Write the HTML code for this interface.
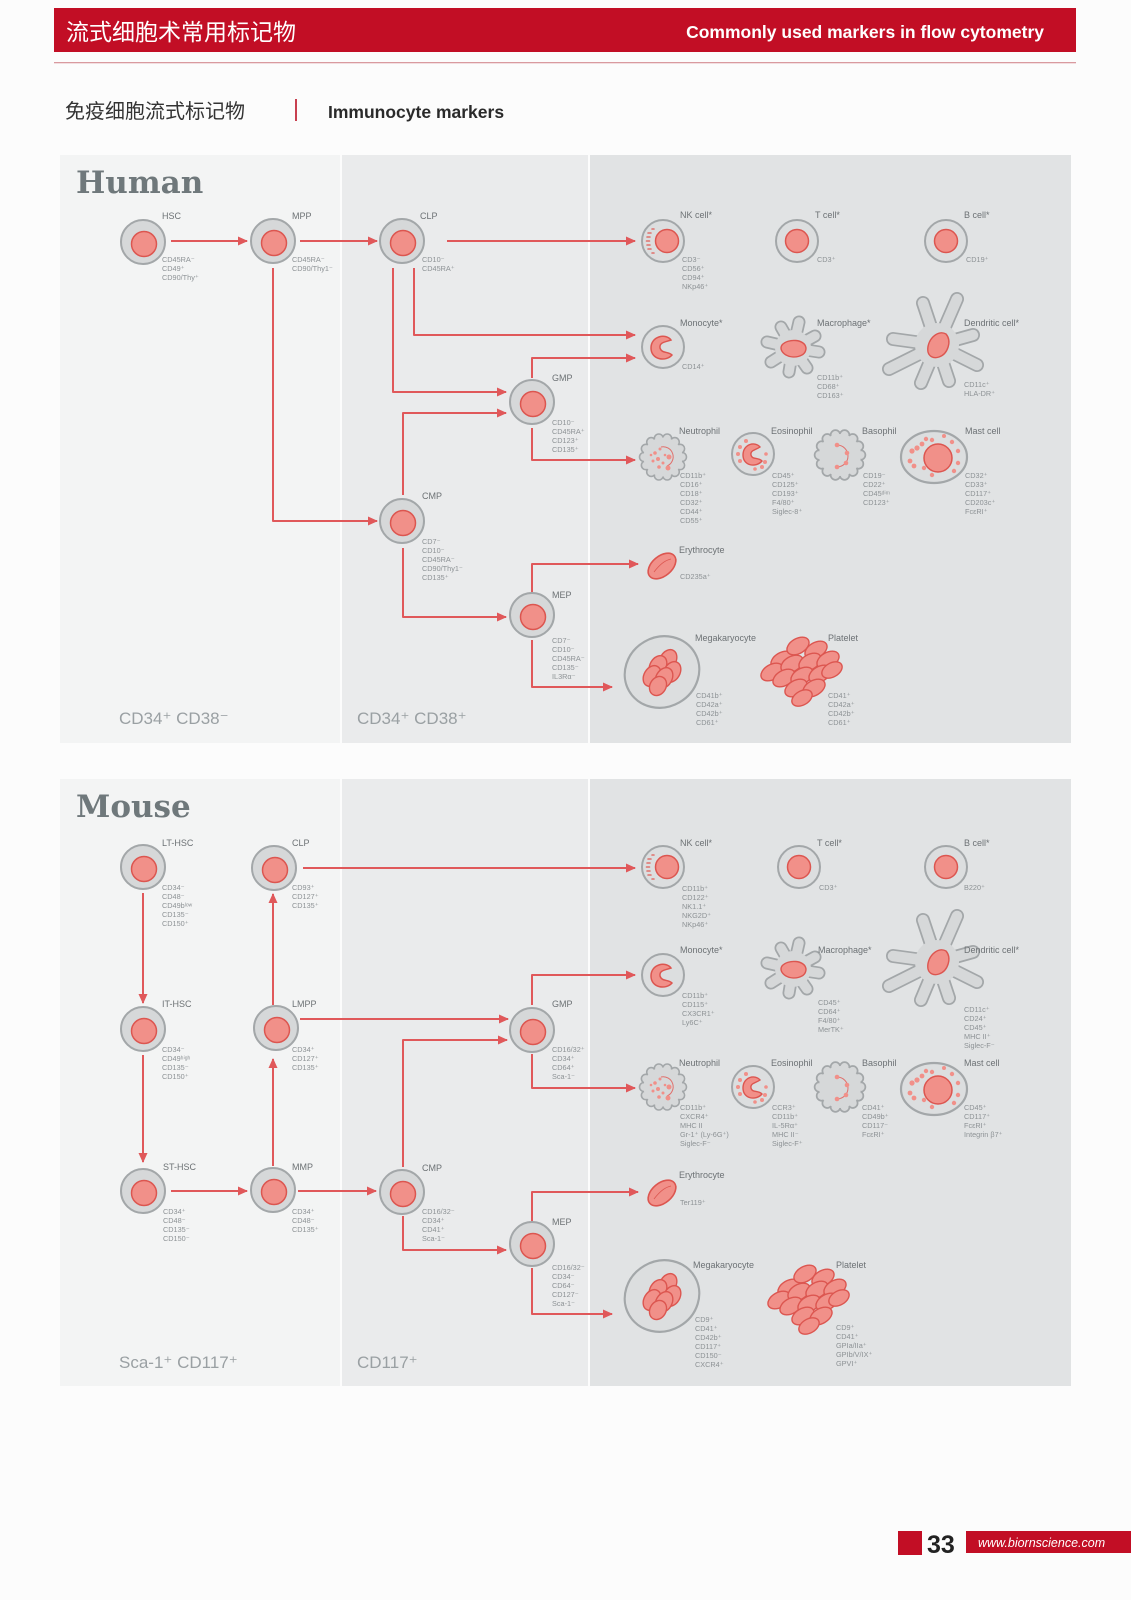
<!DOCTYPE html>
<html><head><meta charset="utf-8"><style>
html,body{margin:0;padding:0;background:#fcfcfc;}
svg{display:block;}
.lb{font-family:"Liberation Sans",sans-serif;font-size:9px;fill:#6d7275;}
.mk{font-family:"Liberation Sans",sans-serif;font-size:7.3px;fill:#8d9295;}
.ar{fill:none;stroke:#e0585a;stroke-width:2;marker-end:url(#ah);stroke-linejoin:round;}
.ttl{font-family:"DejaVu Serif","Liberation Serif",serif;font-size:31px;fill:#6f787b;font-weight:600;}
.bt{font-family:"Liberation Sans",sans-serif;font-size:17px;fill:#9aa0a3;}
</style></head><body>
<svg width="1131" height="1600" viewBox="0 0 1131 1600" xmlns="http://www.w3.org/2000/svg">
<defs>
<marker id="ah" markerWidth="10" markerHeight="10" refX="9" refY="5" orient="auto" markerUnits="userSpaceOnUse">
<path d="M0,0.5 L10,5 L0,9.5 Z" fill="#e0585a"/></marker>
<g id="stem"><circle r="22" fill="#d6d8d9" stroke="#a3a7a9" stroke-width="2"/><circle cx="1" cy="2" r="12.5" fill="#f19089" stroke="#dc5650" stroke-width="1.5"/></g>
<g id="lym"><circle r="21" fill="#dcdedf" stroke="#a3a7a9" stroke-width="2"/><circle r="11.5" fill="#f19089" stroke="#dc5650" stroke-width="1.5"/></g>
<g id="nk"><circle r="21" fill="#dcdedf" stroke="#a3a7a9" stroke-width="2"/><circle cx="4" r="11.5" fill="#f19089" stroke="#dc5650" stroke-width="1.5"/>
<g stroke="#e0706c" stroke-width="1.6" stroke-linecap="round"><path d="M-15,-8 l3,0 M-16,-4 l3,0 M-16.5,0 l3,0 M-16,4 l3,0 M-15,8 l3,0 M-11,-12 l2,0 M-11,12 l2,0"/></g></g>
<g id="mono"><circle r="21" fill="#dcdedf" stroke="#a3a7a9" stroke-width="2"/><path d="M8,-7 C3,-14 -12,-11 -12,1 C-12,13 3,15 9,8 C5,4 -1,7 -3,1 C-4,-5 3,-5 8,-7 Z" fill="#f19089" stroke="#dc5650" stroke-width="1.5"/></g>
<g id="mac"><g stroke-linecap="round" fill="none">
<path d="M0,0 L-26,-6 M0,0 L-22,14 M0,0 L-4,24 M0,0 L14,20 M0,0 L26,4 M0,0 L22,-12 M0,0 L6,-26 M0,0 L-12,-21" stroke="#a3a7a9" stroke-width="13"/>
<path d="M0,0 L-26,-6 M0,0 L-22,14 M0,0 L-4,24 M0,0 L14,20 M0,0 L26,4 M0,0 L22,-12 M0,0 L6,-26 M0,0 L-12,-21" stroke="#d6d8d9" stroke-width="9.5"/></g>
<circle r="18" fill="#d6d8d9"/><path d="M-11,-3 C-5,-10 12,-9 13,0 C13,9 0,11 -7,7 C-12,4 -13,0 -11,-3Z" fill="#f19089" stroke="#dc5650" stroke-width="1.4"/></g>
<g id="dc"><g stroke-linecap="round" fill="none">
<path d="M0,0 L20,-46 M0,0 L-14,-42 M0,0 L-44,-6 M0,0 L-48,24 M0,0 L-16,38 M0,0 L12,36 M0,0 L40,20 M0,0 L36,-10" stroke="#a3a7a9" stroke-width="14"/>
<path d="M0,0 L20,-46 M0,0 L-14,-42 M0,0 L-44,-6 M0,0 L-48,24 M0,0 L-16,38 M0,0 L12,36 M0,0 L40,20 M0,0 L36,-10" stroke="#d6d8d9" stroke-width="10.5"/></g>
<circle r="22" fill="#d6d8d9"/><path d="M-9,7 C-11,-4 0,-16 9,-11 C15,-4 11,9 2,12 C-4,14 -8,11 -9,7Z" fill="#f19089" stroke="#dc5650" stroke-width="1.4"/></g>
<g id="bump"><g fill="#d6d8d9" stroke="#a3a7a9" stroke-width="1.6">
<circle cx="19" cy="0" r="4.5"/><circle cx="17.1" cy="8.2" r="4.5"/><circle cx="11.8" cy="14.9" r="4.5"/><circle cx="4.2" cy="18.5" r="4.5"/><circle cx="-4.2" cy="18.5" r="4.5"/><circle cx="-11.8" cy="14.9" r="4.5"/><circle cx="-17.1" cy="8.2" r="4.5"/><circle cx="-19" cy="0" r="4.5"/><circle cx="-17.1" cy="-8.2" r="4.5"/><circle cx="-11.8" cy="-14.9" r="4.5"/><circle cx="-4.2" cy="-18.5" r="4.5"/><circle cx="4.2" cy="-18.5" r="4.5"/><circle cx="11.8" cy="-14.9" r="4.5"/><circle cx="17.1" cy="-8.2" r="4.5"/></g>
<circle r="19.5" fill="#d6d8d9"/></g>
<g id="neut"><use href="#bump"/><path d="M-2,-10 A10,10 0 0 1 4,9" fill="none" stroke="#e0706c" stroke-width="1"/>
<g fill="#f19089"><circle cx="-8" cy="-4" r="1.8"/><circle cx="-3" cy="-8" r="1.5"/><circle cx="-10" cy="4" r="1.5"/><circle cx="-5" cy="2" r="2"/><circle cx="0" cy="6" r="1.5"/><circle cx="-4" cy="10" r="1.8"/><circle cx="6" cy="0" r="2.5"/><circle cx="5" cy="11" r="2.5"/><circle cx="-12" cy="-2" r="1.3"/><circle cx="2" cy="-2" r="1.3"/></g></g>
<g id="eos"><circle r="21" fill="#dcdedf" stroke="#a3a7a9" stroke-width="2"/><path d="M7,-7 C2,-13 -10,-10 -10,1 C-10,12 3,14 9,7 C5,3 -1,6 -2,1 C-3,-4 3,-4 7,-7 Z" fill="#f19089" stroke="#dc5650" stroke-width="1.4"/>
<g fill="#f19089"><circle cx="-13" cy="-7" r="2"/><circle cx="-15" cy="0" r="2"/><circle cx="-13" cy="7" r="2"/><circle cx="-7" cy="-13" r="2"/><circle cx="12" cy="8" r="2"/><circle cx="9" cy="13" r="2"/><circle cx="13" cy="0" r="1.8"/><circle cx="2" cy="15" r="1.8"/></g></g>
<g id="baso"><g transform="scale(1.08)"><use href="#bump"/></g><path d="M-3,-10 A10,10 0 0 1 -3,12" fill="none" stroke="#e0706c" stroke-width="1"/>
<g fill="#f19089"><circle cx="-3" cy="-10" r="2.3"/><circle cx="7" cy="-2" r="2.3"/><circle cx="6" cy="8" r="2.3"/><circle cx="-3" cy="12" r="2.3"/></g></g>
<g id="mast"><ellipse rx="33" ry="26" fill="#dcdedf" stroke="#a3a7a9" stroke-width="2.2"/><circle cx="4" cy="1" r="14" fill="#f19089" stroke="#dc5650" stroke-width="1.5"/>
<g fill="#f19089"><circle cx="-22" cy="-6" r="2.6"/><circle cx="-17" cy="-9" r="2.6"/><circle cx="-12" cy="-13" r="2.4"/><circle cx="-8" cy="-18" r="2.2"/><circle cx="-2" cy="-17" r="2.2"/><circle cx="18" cy="-15" r="2.2"/><circle cx="24" cy="-6" r="2.2"/><circle cx="24" cy="6" r="2.2"/><circle cx="20" cy="14" r="2.2"/><circle cx="-2" cy="18" r="2.2"/><circle cx="-10" cy="11" r="2.2"/><circle cx="-24" cy="4" r="2.4"/><circle cx="-20" cy="9" r="2.4"/><circle cx="10" cy="-21" r="2"/></g></g>
<g id="ery"><ellipse rx="16" ry="10" transform="rotate(-40)" fill="#f19089" stroke="#dc5650" stroke-width="1.6"/><path d="M-8,6 C-2,-2 4,-6 9,-7" fill="none" stroke="#dc5650" stroke-width="0.8"/></g>
<g id="mkc"><g fill="#f19089" stroke="#dc5650" stroke-width="1.4">
<ellipse cx="6" cy="-12" rx="8" ry="11" transform="rotate(30 6 -12)"/><ellipse cx="-4" cy="-6" rx="8" ry="11" transform="rotate(30 -4 -6)"/><ellipse cx="10" cy="0" rx="8" ry="11" transform="rotate(30 10 0)"/><ellipse cx="-10" cy="4" rx="8" ry="11" transform="rotate(30 -10 4)"/><ellipse cx="2" cy="6" rx="8" ry="11" transform="rotate(30 2 6)"/><ellipse cx="-4" cy="14" rx="8" ry="10" transform="rotate(30 -4 14)"/></g></g>
<g id="mega"><ellipse rx="38" ry="35" transform="rotate(-30)" fill="#dcdedf" stroke="#a3a7a9" stroke-width="2.2"/><use href="#mkc"/></g>
<g id="plt"><g fill="#f19089" stroke="#dc5650" stroke-width="1.4">
<ellipse cx="-20" cy="-8" rx="12" ry="7.5" transform="rotate(-30 -20 -8)"/><ellipse cx="-4" cy="-22" rx="12" ry="7.5" transform="rotate(-30 -4 -22)"/><ellipse cx="14" cy="-18" rx="12" ry="7.5" transform="rotate(-30 14 -18)"/><ellipse cx="-30" cy="4" rx="12" ry="7.5" transform="rotate(-30 -30 4)"/><ellipse cx="-10" cy="-4" rx="12" ry="7.5" transform="rotate(-30 -10 -4)"/><ellipse cx="8" cy="-6" rx="12" ry="7.5" transform="rotate(-30 8 -6)"/><ellipse cx="26" cy="-8" rx="12" ry="7.5" transform="rotate(-30 26 -8)"/><ellipse cx="-18" cy="10" rx="12" ry="7.5" transform="rotate(-30 -18 10)"/><ellipse cx="0" cy="8" rx="12" ry="7.5" transform="rotate(-30 0 8)"/><ellipse cx="18" cy="6" rx="12" ry="7.5" transform="rotate(-30 18 6)"/><ellipse cx="30" cy="2" rx="11" ry="7" transform="rotate(-30 30 2)"/><ellipse cx="-6" cy="20" rx="12" ry="7.5" transform="rotate(-30 -6 20)"/><ellipse cx="12" cy="20" rx="12" ry="7.5" transform="rotate(-30 12 20)"/><ellipse cx="0" cy="30" rx="11" ry="7" transform="rotate(-30 0 30)"/></g></g>
</defs>

<!-- header -->
<rect x="54" y="8" width="1022" height="44" fill="#c20e25"/>
<text x="66" y="40" font-family="'Liberation Sans','Noto Sans CJK SC',sans-serif" font-size="23" fill="#fff">流式细胞术常用标记物</text>
<text x="1044" y="38" text-anchor="end" font-family="'Liberation Sans',sans-serif" font-size="17.5" font-weight="bold" fill="#fff">Commonly used markers in flow cytometry</text>
<rect x="54" y="62" width="1022" height="1.3" fill="#d99a9f"/>
<text x="65" y="118" font-family="'Liberation Sans','Noto Sans CJK SC',sans-serif" font-size="20" fill="#333">免疫细胞流式标记物</text>
<rect x="295" y="99" width="2" height="22" fill="#c84050"/>
<text x="328" y="118" font-family="'Liberation Sans',sans-serif" font-size="17.5" font-weight="bold" fill="#2a2a2a">Immunocyte markers</text>

<!-- Human panel -->
<rect x="60" y="155" width="280" height="588" fill="#f3f4f4"/>
<rect x="342" y="155" width="246" height="588" fill="#eaebec"/>
<rect x="590" y="155" width="481" height="588" fill="#e1e3e4"/>
<text x="76" y="193" class="ttl">Human</text>
<text x="119" y="724" class="bt">CD34⁺ CD38⁻</text>
<text x="357" y="724" class="bt">CD34⁺ CD38⁺</text>

<path class="ar" d="M171,241 L247,241"/>
<path class="ar" d="M300,241 L377,241"/>
<path class="ar" d="M447,241 L635,241"/>
<path class="ar" d="M414,268 L414,335 L635,335"/>
<path class="ar" d="M393,268 L393,392 L506,392"/>
<path class="ar" d="M532,378 L532,358 L635,358"/>
<path class="ar" d="M273,268 L273,521 L377,521"/>
<path class="ar" d="M403,495 L403,413 L506,413"/>
<path class="ar" d="M532,428 L532,460 L635,460"/>
<path class="ar" d="M403,548 L403,617 L506,617"/>
<path class="ar" d="M532,592 L532,564 L638,564"/>
<path class="ar" d="M532,640 L532,687 L612,687"/>

<use href="#stem" x="143" y="242"/><use href="#stem" x="273" y="241"/><use href="#stem" x="402" y="241"/>
<use href="#stem" x="532" y="402"/><use href="#stem" x="402" y="521"/><use href="#stem" x="532" y="615"/>
<use href="#nk" x="663" y="241"/><use href="#lym" x="797" y="241"/><use href="#lym" x="946" y="241"/>
<use href="#mono" x="663" y="347"/><use href="#mac" x="793" y="348"/><use href="#dc" x="937" y="345"/>
<use href="#neut" x="663" y="457"/><use href="#eos" x="753" y="454"/><use href="#baso" x="840" y="455"/><use href="#mast" x="934" y="457"/>
<use href="#ery" x="662" y="566"/><use href="#mega" x="662" y="672"/><use href="#plt" x="802" y="668"/>

<text class="lb" x="162" y="219">HSC</text>
<text class="mk" x="162" y="262"><tspan x="162">CD45RA⁻</tspan><tspan x="162" dy="9">CD49⁺</tspan><tspan x="162" dy="9">CD90/Thy⁺</tspan></text>
<text class="lb" x="292" y="219">MPP</text>
<text class="mk" x="292" y="262"><tspan x="292">CD45RA⁻</tspan><tspan x="292" dy="9">CD90/Thy1⁻</tspan></text>
<text class="lb" x="420" y="219">CLP</text>
<text class="mk" x="422" y="262"><tspan x="422">CD10⁻</tspan><tspan x="422" dy="9">CD45RA⁺</tspan></text>
<text class="lb" x="552" y="381">GMP</text>
<text class="mk" x="552" y="425"><tspan x="552">CD10⁻</tspan><tspan x="552" dy="9">CD45RA⁺</tspan><tspan x="552" dy="9">CD123⁺</tspan><tspan x="552" dy="9">CD135⁺</tspan></text>
<text class="lb" x="422" y="499">CMP</text>
<text class="mk" x="422" y="544"><tspan x="422">CD7⁻</tspan><tspan x="422" dy="9">CD10⁻</tspan><tspan x="422" dy="9">CD45RA⁻</tspan><tspan x="422" dy="9">CD90/Thy1⁻</tspan><tspan x="422" dy="9">CD135⁺</tspan></text>
<text class="lb" x="552" y="598">MEP</text>
<text class="mk" x="552" y="643"><tspan x="552">CD7⁻</tspan><tspan x="552" dy="9">CD10⁻</tspan><tspan x="552" dy="9">CD45RA⁻</tspan><tspan x="552" dy="9">CD135⁻</tspan><tspan x="552" dy="9">IL3Rα⁻</tspan></text>
<text class="lb" x="680" y="218">NK cell*</text>
<text class="mk" x="682" y="262"><tspan x="682">CD3⁻</tspan><tspan x="682" dy="9">CD56⁺</tspan><tspan x="682" dy="9">CD94⁺</tspan><tspan x="682" dy="9">NKp46⁺</tspan></text>
<text class="lb" x="815" y="218">T cell*</text>
<text class="mk" x="817" y="262">CD3⁺</text>
<text class="lb" x="964" y="218">B cell*</text>
<text class="mk" x="966" y="262">CD19⁺</text>
<text class="lb" x="680" y="326">Monocyte*</text>
<text class="mk" x="682" y="369">CD14⁺</text>
<text class="lb" x="817" y="326">Macrophage*</text>
<text class="mk" x="817" y="380"><tspan x="817">CD11b⁺</tspan><tspan x="817" dy="9">CD68⁺</tspan><tspan x="817" dy="9">CD163⁺</tspan></text>
<text class="lb" x="964" y="326">Dendritic cell*</text>
<text class="mk" x="964" y="387"><tspan x="964">CD11c⁺</tspan><tspan x="964" dy="9">HLA-DR⁺</tspan></text>
<text class="lb" x="679" y="434">Neutrophil</text>
<text class="mk" x="680" y="478"><tspan x="680">CD11b⁺</tspan><tspan x="680" dy="9">CD16⁺</tspan><tspan x="680" dy="9">CD18⁺</tspan><tspan x="680" dy="9">CD32⁺</tspan><tspan x="680" dy="9">CD44⁺</tspan><tspan x="680" dy="9">CD55⁺</tspan></text>
<text class="lb" x="771" y="434">Eosinophil</text>
<text class="mk" x="772" y="478"><tspan x="772">CD45⁺</tspan><tspan x="772" dy="9">CD125⁺</tspan><tspan x="772" dy="9">CD193⁺</tspan><tspan x="772" dy="9">F4/80⁺</tspan><tspan x="772" dy="9">Siglec-8⁺</tspan></text>
<text class="lb" x="862" y="434">Basophil</text>
<text class="mk" x="863" y="478"><tspan x="863">CD19⁻</tspan><tspan x="863" dy="9">CD22⁺</tspan><tspan x="863" dy="9">CD45ᵈⁱᵐ</tspan><tspan x="863" dy="9">CD123⁺</tspan></text>
<text class="lb" x="965" y="434">Mast cell</text>
<text class="mk" x="965" y="478"><tspan x="965">CD32⁺</tspan><tspan x="965" dy="9">CD33⁺</tspan><tspan x="965" dy="9">CD117⁺</tspan><tspan x="965" dy="9">CD203c⁺</tspan><tspan x="965" dy="9">FcεRI⁺</tspan></text>
<text class="lb" x="679" y="553">Erythrocyte</text>
<text class="mk" x="680" y="579">CD235a⁺</text>
<text class="lb" x="695" y="641">Megakaryocyte</text>
<text class="mk" x="696" y="698"><tspan x="696">CD41b⁺</tspan><tspan x="696" dy="9">CD42a⁺</tspan><tspan x="696" dy="9">CD42b⁺</tspan><tspan x="696" dy="9">CD61⁺</tspan></text>
<text class="lb" x="828" y="641">Platelet</text>
<text class="mk" x="828" y="698"><tspan x="828">CD41⁺</tspan><tspan x="828" dy="9">CD42a⁺</tspan><tspan x="828" dy="9">CD42b⁺</tspan><tspan x="828" dy="9">CD61⁺</tspan></text>

<!-- Mouse panel -->
<rect x="60" y="779" width="280" height="607" fill="#f3f4f4"/>
<rect x="342" y="779" width="246" height="607" fill="#eaebec"/>
<rect x="590" y="779" width="481" height="607" fill="#e1e3e4"/>
<text x="76" y="817" class="ttl">Mouse</text>
<text x="119" y="1368" class="bt">Sca-1⁺ CD117⁺</text>
<text x="357" y="1368" class="bt">CD117⁺</text>

<path class="ar" d="M143,893 L143,1003"/>
<path class="ar" d="M143,1055 L143,1162"/>
<path class="ar" d="M171,1191 L247,1191"/>
<path class="ar" d="M298,1191 L376,1191"/>
<path class="ar" d="M273,1166 L273,1059"/>
<path class="ar" d="M273,1005 L273,894"/>
<path class="ar" d="M303,868 L635,868"/>
<path class="ar" d="M300,1019 L508,1019"/>
<path class="ar" d="M403,1167 L403,1040 L507,1040"/>
<path class="ar" d="M532,1005 L532,975 L635,975"/>
<path class="ar" d="M532,1054 L532,1088 L635,1088"/>
<path class="ar" d="M403,1216 L403,1250 L506,1250"/>
<path class="ar" d="M532,1222 L532,1192 L638,1192"/>
<path class="ar" d="M532,1268 L532,1314 L612,1314"/>

<use href="#stem" x="143" y="867"/><use href="#stem" x="274" y="868"/>
<use href="#stem" x="143" y="1029"/><use href="#stem" x="276" y="1028"/>
<use href="#stem" x="143" y="1191"/><use href="#stem" x="273" y="1190"/><use href="#stem" x="402" y="1192"/>
<use href="#stem" x="532" y="1030"/><use href="#stem" x="532" y="1244"/>
<use href="#nk" x="663" y="867"/><use href="#lym" x="799" y="867"/><use href="#lym" x="946" y="867"/>
<use href="#mono" x="663" y="975"/><use href="#mac" x="793" y="969"/><use href="#dc" x="937" y="962"/>
<use href="#neut" x="663" y="1087"/><use href="#eos" x="753" y="1087"/><use href="#baso" x="840" y="1087"/><use href="#mast" x="934" y="1089"/>
<use href="#ery" x="662" y="1193"/><use href="#mega" x="662" y="1296"/><use href="#plt" x="809" y="1296"/>

<text class="lb" x="162" y="846">LT-HSC</text>
<text class="mk" x="162" y="890"><tspan x="162">CD34⁻</tspan><tspan x="162" dy="9">CD48⁻</tspan><tspan x="162" dy="9">CD49bˡᵒʷ</tspan><tspan x="162" dy="9">CD135⁻</tspan><tspan x="162" dy="9">CD150⁺</tspan></text>
<text class="lb" x="292" y="846">CLP</text>
<text class="mk" x="292" y="890"><tspan x="292">CD93⁺</tspan><tspan x="292" dy="9">CD127⁺</tspan><tspan x="292" dy="9">CD135⁺</tspan></text>
<text class="lb" x="162" y="1007">IT-HSC</text>
<text class="mk" x="162" y="1052"><tspan x="162">CD34⁻</tspan><tspan x="162" dy="9">CD49ʰⁱᵍʰ</tspan><tspan x="162" dy="9">CD135⁻</tspan><tspan x="162" dy="9">CD150⁺</tspan></text>
<text class="lb" x="292" y="1007">LMPP</text>
<text class="mk" x="292" y="1052"><tspan x="292">CD34⁺</tspan><tspan x="292" dy="9">CD127⁺</tspan><tspan x="292" dy="9">CD135⁺</tspan></text>
<text class="lb" x="163" y="1170">ST-HSC</text>
<text class="mk" x="163" y="1214"><tspan x="163">CD34⁺</tspan><tspan x="163" dy="9">CD48⁻</tspan><tspan x="163" dy="9">CD135⁻</tspan><tspan x="163" dy="9">CD150⁻</tspan></text>
<text class="lb" x="292" y="1170">MMP</text>
<text class="mk" x="292" y="1214"><tspan x="292">CD34⁺</tspan><tspan x="292" dy="9">CD48⁻</tspan><tspan x="292" dy="9">CD135⁺</tspan></text>
<text class="lb" x="422" y="1171">CMP</text>
<text class="mk" x="422" y="1214"><tspan x="422">CD16/32⁻</tspan><tspan x="422" dy="9">CD34⁺</tspan><tspan x="422" dy="9">CD41⁺</tspan><tspan x="422" dy="9">Sca-1⁻</tspan></text>
<text class="lb" x="552" y="1007">GMP</text>
<text class="mk" x="552" y="1052"><tspan x="552">CD16/32⁺</tspan><tspan x="552" dy="9">CD34⁺</tspan><tspan x="552" dy="9">CD64⁺</tspan><tspan x="552" dy="9">Sca-1⁻</tspan></text>
<text class="lb" x="552" y="1225">MEP</text>
<text class="mk" x="552" y="1270"><tspan x="552">CD16/32⁻</tspan><tspan x="552" dy="9">CD34⁻</tspan><tspan x="552" dy="9">CD64⁻</tspan><tspan x="552" dy="9">CD127⁻</tspan><tspan x="552" dy="9">Sca-1⁻</tspan></text>
<text class="lb" x="680" y="846">NK cell*</text>
<text class="mk" x="682" y="891"><tspan x="682">CD11b⁺</tspan><tspan x="682" dy="9">CD122⁺</tspan><tspan x="682" dy="9">NK1.1⁺</tspan><tspan x="682" dy="9">NKG2D⁺</tspan><tspan x="682" dy="9">NKp46⁺</tspan></text>
<text class="lb" x="817" y="846">T cell*</text>
<text class="mk" x="819" y="890">CD3⁺</text>
<text class="lb" x="964" y="846">B cell*</text>
<text class="mk" x="964" y="890">B220⁺</text>
<text class="lb" x="680" y="953">Monocyte*</text>
<text class="mk" x="682" y="998"><tspan x="682">CD11b⁺</tspan><tspan x="682" dy="9">CD115⁺</tspan><tspan x="682" dy="9">CX3CR1⁺</tspan><tspan x="682" dy="9">Ly6C⁺</tspan></text>
<text class="lb" x="818" y="953">Macrophage*</text>
<text class="mk" x="818" y="1005"><tspan x="818">CD45⁺</tspan><tspan x="818" dy="9">CD64⁺</tspan><tspan x="818" dy="9">F4/80⁺</tspan><tspan x="818" dy="9">MerTK⁺</tspan></text>
<text class="lb" x="964" y="953">Dendritic cell*</text>
<text class="mk" x="964" y="1012"><tspan x="964">CD11c⁺</tspan><tspan x="964" dy="9">CD24⁺</tspan><tspan x="964" dy="9">CD45⁺</tspan><tspan x="964" dy="9">MHC II⁺</tspan><tspan x="964" dy="9">Siglec-F⁻</tspan></text>
<text class="lb" x="679" y="1066">Neutrophil</text>
<text class="mk" x="680" y="1110"><tspan x="680">CD11b⁺</tspan><tspan x="680" dy="9">CXCR4⁺</tspan><tspan x="680" dy="9">MHC II</tspan><tspan x="680" dy="9">Gr-1⁺ (Ly-6G⁺)</tspan><tspan x="680" dy="9">Siglec-F⁻</tspan></text>
<text class="lb" x="771" y="1066">Eosinophil</text>
<text class="mk" x="772" y="1110"><tspan x="772">CCR3⁺</tspan><tspan x="772" dy="9">CD11b⁺</tspan><tspan x="772" dy="9">IL-5Rα⁺</tspan><tspan x="772" dy="9">MHC II⁻</tspan><tspan x="772" dy="9">Siglec-F⁺</tspan></text>
<text class="lb" x="862" y="1066">Basophil</text>
<text class="mk" x="862" y="1110"><tspan x="862">CD41⁺</tspan><tspan x="862" dy="9">CD49b⁺</tspan><tspan x="862" dy="9">CD117⁻</tspan><tspan x="862" dy="9">FcεRI⁺</tspan></text>
<text class="lb" x="964" y="1066">Mast cell</text>
<text class="mk" x="964" y="1110"><tspan x="964">CD45⁺</tspan><tspan x="964" dy="9">CD117⁺</tspan><tspan x="964" dy="9">FcεRI⁺</tspan><tspan x="964" dy="9">Integrin β7⁺</tspan></text>
<text class="lb" x="679" y="1178">Erythrocyte</text>
<text class="mk" x="680" y="1205">Ter119⁺</text>
<text class="lb" x="693" y="1268">Megakaryocyte</text>
<text class="mk" x="695" y="1322"><tspan x="695">CD9⁺</tspan><tspan x="695" dy="9">CD41⁺</tspan><tspan x="695" dy="9">CD42b⁺</tspan><tspan x="695" dy="9">CD117⁺</tspan><tspan x="695" dy="9">CD150⁻</tspan><tspan x="695" dy="9">CXCR4⁺</tspan></text>
<text class="lb" x="836" y="1268">Platelet</text>
<text class="mk" x="836" y="1330"><tspan x="836">CD9⁺</tspan><tspan x="836" dy="9">CD41⁺</tspan><tspan x="836" dy="9">GPIa/IIa⁺</tspan><tspan x="836" dy="9">GPIb/V/IX⁺</tspan><tspan x="836" dy="9">GPVI⁺</tspan></text>

<!-- footer -->
<rect x="898" y="1531" width="24" height="24" fill="#c20e25"/>
<text x="927" y="1553" font-family="'Liberation Sans',sans-serif" font-size="25" font-weight="bold" fill="#222">33</text>
<rect x="966" y="1531" width="165" height="22" fill="#c20e25"/>
<text x="978" y="1547" font-family="'Liberation Sans',sans-serif" font-size="12.5" font-style="italic" fill="#fff">www.biornscience.com</text>
</svg>
</body></html>
